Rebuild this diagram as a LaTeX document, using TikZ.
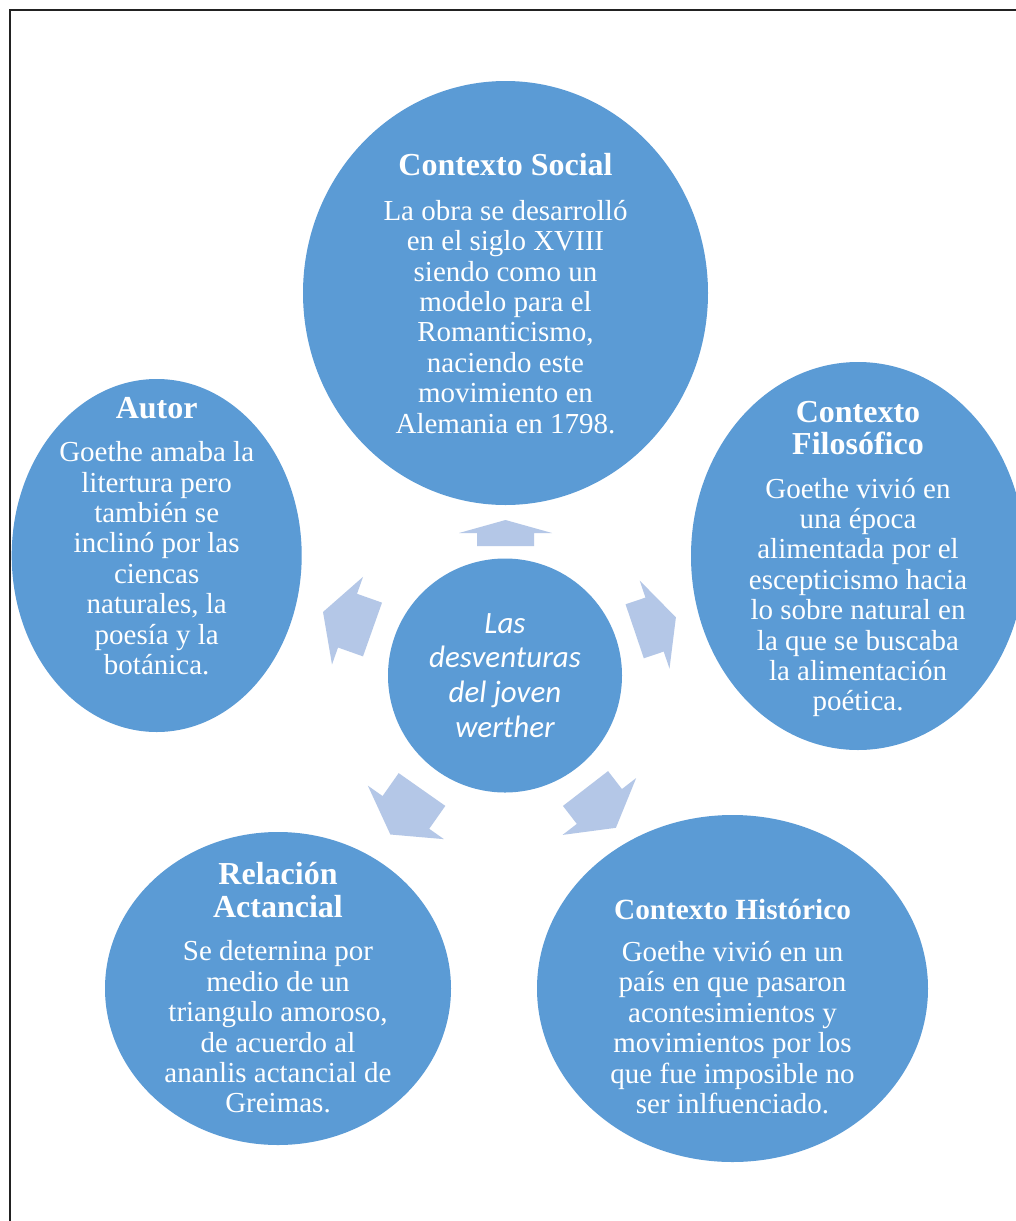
\documentclass[tikz,border=0pt]{standalone}
\usepackage{fontspec}
\setmainfont{Liberation Serif}
\newfontfamily\calibfont{Carlito}
\usetikzlibrary{shapes.geometric}
\definecolor{bubblefill}{HTML}{5B9BD5}
\definecolor{arrowfill}{HTML}{B4C7E7}
\definecolor{framecol}{HTML}{222222}
\newcommand\bodyfont{\fontsize{29}{30.4}\selectfont}
\newcommand\ttlfont{\bfseries\fontsize{32}{32}\selectfont}
\newcommand\ttlsmallfont{\bfseries\fontsize{29.3}{30}\selectfont}
\tikzset{
  bubble/.style={ellipse, fill=bubblefill, draw=none, inner sep=0pt},
  bubbletext/.style={text=white, align=center, font=\bodyfont, inner sep=0pt},
  centertext/.style={text=white, align=center, font=\calibfont\itshape\fontsize{31}{34.8}\selectfont, inner sep=0pt},
  blockarrow/.style={fill=arrowfill, draw=none},
}
% x, y (middle of shaft end), angle, shaft length, head length
\newcommand\radarrow[5]{%
  \fill[blockarrow, shift={(#1,#2)}, rotate=#3]
    (0pt,-28.5pt) -- ({#4*1pt},-28.5pt) -- ({#4*1pt},-46.5pt) -- ({(#4+#5)*1pt},0pt)
    -- ({#4*1pt},46.5pt) -- ({#4*1pt},28.5pt) -- (0pt,28.5pt) -- cycle;
}
\begin{document}
\begin{tikzpicture}[x=1pt, y=-1pt]
\useasboundingbox (0,0) rectangle (1016,1221);
\fill[white] (0,0) rectangle (1016,1221);
\draw[framecol, line width=2pt] (10,1240) -- (10,10) -- (1040,10);

% bubbles
\node[bubble, minimum width=405pt, minimum height=424pt] (social) at (505.5,293) {};
\node[bubble, minimum width=334pt, minimum height=388pt] (filo) at (858,556) {};
\node[bubble, minimum width=290pt, minimum height=353pt] (autor) at (156.7,555.5) {};
\node[bubble, minimum width=346pt, minimum height=313pt] (actan) at (278,988.5) {};
\node[bubble, minimum width=391pt, minimum height=347pt] (hist) at (732.5,988.5) {};
\node[bubble, minimum width=234pt, minimum height=234pt] (centro) at (505,675.5) {};

% block arrows
\radarrow{505.5}{546}{90}{13}{13}
\radarrow{372.5}{629.5}{160.5}{26.5}{26}
\radarrow{634.7}{631.3}{18.7}{21}{22.5}
\radarrow{422}{789.5}{234.9}{28}{27}
\radarrow{585.5}{788.5}{-52.3}{22.7}{27}

% texts
\node[bubbletext] (socialtxt) at (505.5,293.5) {{\ttlfont Contexto Social}\\[14pt]
  La obra se desarrolló\\ en el siglo XVIII\\ siendo como un\\ modelo para el\\
  Romanticismo,\\ naciendo este\\ movimiento en\\ Alemania en 1798.};
\node[bubbletext] (filotxt) at (858,559) {{\ttlfont Contexto}\\[2.1pt]{\ttlfont Filosófico}\\[13.2pt]
  Goethe vivió en\\ una época\\ alimentada por el\\ escepticismo hacia\\
  lo sobre natural en\\ la que se buscaba\\ la alimentación\\ poética.};
\node[bubbletext] (autortxt) at (156.7,536) {{\ttlfont Autor}\\[13.2pt]
  Goethe amaba la\\ litertura pero\\ también se\\ inclinó por las\\
  ciencas\\ naturales, la\\ poesía y la\\ botánica.};
\node[bubbletext] (actantxt) at (278,988) {{\ttlfont Relación}\\[2.1pt]{\ttlfont Actancial}\\[13.2pt]
  Se deternina por\\ medio de un\\ triangulo amoroso,\\ de acuerdo al\\
  ananlis actancial de\\ Greimas.};
\node[bubbletext] (histtxt) at (732.5,1006.5) {{\ttlsmallfont Contexto Histórico}\\[11.5pt]
  Goethe vivió en un\\ país en que pasaron\\ acontesimientos y\\ movimientos por los\\
  que fue imposible no\\ ser inlfuenciado.};
\node[centertext] (centrotxt) at (505,675.5) {Las\\ desventuras\\ del joven\\ werther};
\end{tikzpicture}
\end{document}
